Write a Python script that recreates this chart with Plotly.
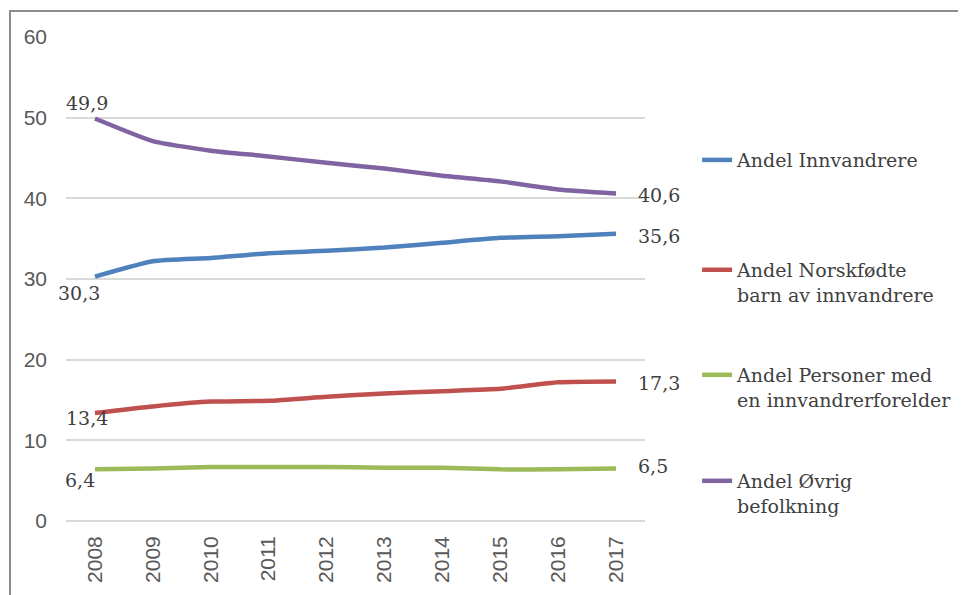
import plotly.graph_objects as go

years = ["2008", "2009", "2010", "2011", "2012", "2013", "2014", "2015", "2016", "2017"]
innvandrere = [30.3, 32.2, 32.6, 33.2, 33.5, 33.9, 34.5, 35.1, 35.3, 35.6]
norskfodte = [13.4, 14.2, 14.8, 14.9, 15.4, 15.8, 16.1, 16.4, 17.2, 17.3]
personer = [6.4, 6.5, 6.7, 6.7, 6.7, 6.6, 6.6, 6.4, 6.4, 6.5]
ovrig = [49.9, 47.1, 45.9, 45.2, 44.4, 43.7, 42.8, 42.1, 41.1, 40.6]

names = ["Andel Innvandrere", "Andel Norskfødte<br>barn av innvandrere",
         "Andel Personer med<br>en innvandrerforelder", "Andel Øvrig<br>befolkning"]
series = [innvandrere, norskfodte, personer, ovrig]
colors = ["#4F81BD", "#C0504D", "#9BBB59", "#8064A2"]
legend_ids = ["legend", "legend2", "legend3", "legend4"]

SERIF = "DejaVu Serif"
SANS = "Liberation Sans"

def fmt(v):
    return f"{v:.1f}".replace(".", ",")

fig = go.Figure()
for s, n, c, lg in zip(series, names, colors, legend_ids):
    fig.add_trace(go.Scatter(x=years, y=s, name=n, mode="lines",
                             line=dict(color=c, width=4.5, shape="spline", smoothing=0.5),
                             legend=lg, hoverinfo="skip"))

label_font = dict(family=SERIF, size=19, color="#404040")
first_offsets = [(-16, -16), (-8, -5), (-15, -11), (-8, 15)]
last_yshift = [-2, -2, 3, -2]
last_idx = len(years) - 1
for s, (dx, dy), ly in zip(series, first_offsets, last_yshift):
    fig.add_annotation(x=0, y=s[0], xref="x", yref="y", text=fmt(s[0]), showarrow=False,
                       xshift=dx, yshift=dy, font=label_font)
    fig.add_annotation(x=last_idx, y=s[-1], xref="x", yref="y", text=fmt(s[-1]),
                       showarrow=False, xanchor="left", xshift=20, yshift=ly, font=label_font)

legend_tops = [0.785, 0.558, 0.341, 0.122]
leg_font = dict(family=SERIF, size=19, color="#404040")
common_leg = dict(x=1.09, xanchor="left", yanchor="top", bgcolor="rgba(0,0,0,0)",
                  valign="top", borderwidth=0)
fig.update_layout(
    font=dict(family=SERIF, size=19, color="#404040"),
    legend=dict(y=legend_tops[0], font=leg_font, **common_leg),
    legend2=dict(y=legend_tops[1], font=leg_font, **common_leg),
    legend3=dict(y=legend_tops[2], font=leg_font, **common_leg),
    legend4=dict(y=legend_tops[3], font=leg_font, **common_leg),
)

fig.update_layout(
    width=966, height=595,
    margin=dict(l=58, r=329, t=29, b=82, autoexpand=False),
    plot_bgcolor="white", paper_bgcolor="white",
    showlegend=True,
    xaxis=dict(type="category", range=[-0.5, 9.5], showgrid=False, showline=False,
               tickangle=-90, ticks="", ticklabelstandoff=10,
               tickfont=dict(family=SANS, size=21, color="#595959")),
    yaxis=dict(range=[0, 60], dtick=10, showgrid=True, gridcolor="#D9D9D9", gridwidth=1.5,
               zeroline=True, zerolinecolor="#D9D9D9", zerolinewidth=1.5,
               showline=False, ticks="", ticklabelstandoff=18,
               tickfont=dict(family=SANS, size=21, color="#595959")),
)

# outer frame (only top and left edges visible in the crop)
fig.add_shape(type="rect", xref="paper", yref="paper",
              x0=(2 - 58) / 579, x1=(975 - 58) / 579,
              y0=(513 - 605) / 484, y1=(513 - 3) / 484,
              line=dict(color="#8C8C8C", width=2), layer="below")

fig.write_html("out.html")
